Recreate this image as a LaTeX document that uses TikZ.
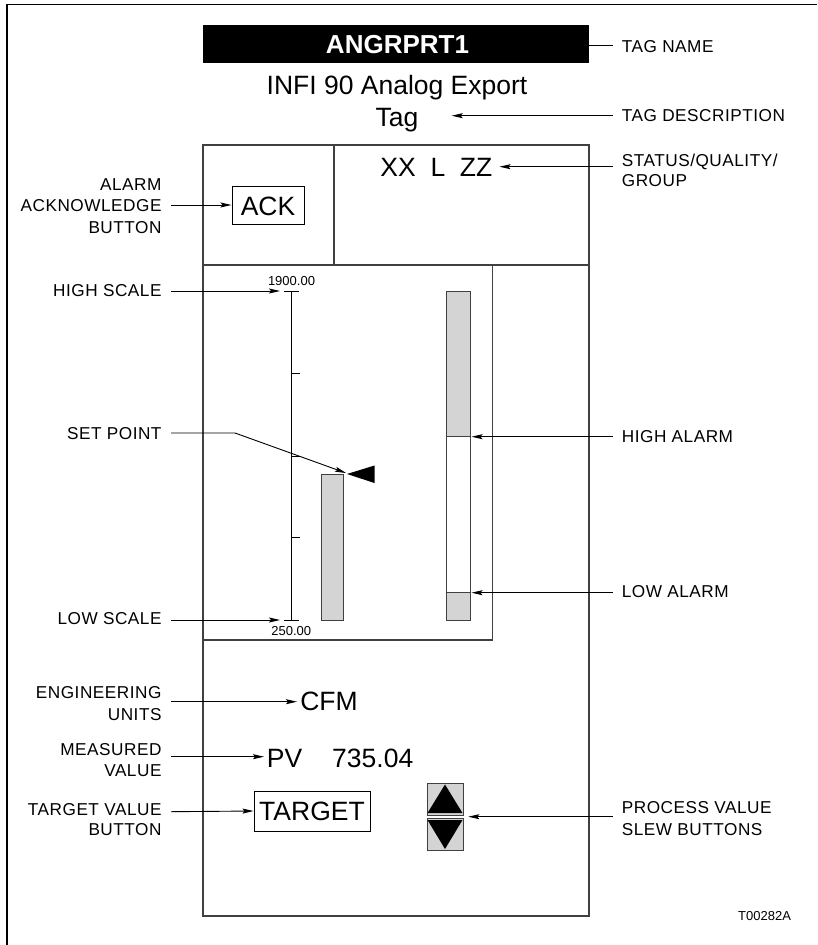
\documentclass[tikz,border=0pt]{standalone}
\usepackage{fontspec}
\setmainfont{Liberation Sans}
\newfontfamily\lblfont[LetterSpace=3]{Liberation Sans}
\usetikzlibrary{arrows.meta}
\begin{document}
\begin{tikzpicture}[x=1pt,y=-1pt,
  lbl/.style={font=\lblfont\fontsize{17.2}{20}\selectfont, inner sep=0pt},
  lblL/.style={lbl, anchor=base east},
  lblR/.style={lbl, anchor=base west},
  big/.style={font=\fontsize{26.5}{30}\selectfont, inner sep=0pt, anchor=base},
  small/.style={font=\fontsize{13}{15}\selectfont, inner sep=0pt, anchor=base},
  arr/.style={-{Stealth[length=11pt,width=5pt,inset=2pt]}, line width=0.9pt},
  pane/.style={draw=black!75, line width=1.2pt},
  gbar/.style={draw=black!75, line width=1pt, fill=black!17},
  wbar/.style={draw=black!75, line width=1pt, fill=white},
  btn/.style={draw=black, line width=1pt},
]
\useasboundingbox (0,0) rectangle (817,945);
% outer frame (top and left)
\draw[line width=1.3pt] (7,945) -- (7,4.5) -- (817,4.5);

% title bar
\fill (203,25) rectangle (589,63);
\node[font=\bfseries\fontsize{26}{30}\selectfont, text=white, anchor=base, inner sep=0pt] (tagname) at (397.5,53.3) {ANGRPRT1};
\node[big] (desc1) at (397,94) {INFI 90 Analog Export};
\node[big] (desc2) at (397,126) {Tag};

% panel
\draw[pane] (203,145) rectangle (589,916);
\draw[pane] (203,265) -- (589,265);
\draw[pane] (334,145) -- (334,265);
\draw[pane] (492.5,265) -- (492.5,640) -- (203,640);

% ACK
\node[btn, minimum width=72pt, minimum height=38pt, inner sep=0pt] (ack) at (268,205) {};
\node[big] (acktxt) at (268,215) {ACK};
\node[big] (status) at (436.4,176.7) {XX\ \ L\ \ ZZ};

% scale
\draw[line width=1pt] (291.7,291) -- (291.7,620);
\draw[line width=1pt] (284,291) -- (299,291);
\draw[line width=1pt] (284,620) -- (299,620);
\foreach \yy in {373.5,456,537.5} \draw[line width=1pt] (291.7,\yy) -- (300,\yy);
\node[small] (hival) at (291.5,285) {1900.00};
\node[small] (loval) at (291.3,635) {250.00};
\coordinate (hiS) at (280,291);
\coordinate (loS) at (280,620);

% PV bar and set point
\draw[gbar] (321,474) rectangle (343,620);
\fill (347,474) -- (374.5,465.5) -- (374.5,483) -- cycle;
\coordinate (sp) at (346,473);

% alarm bar
\draw[gbar] (446.7,291) rectangle (470,620);
\draw[wbar] (446.7,436.7) rectangle (470,592.7);
\coordinate (hiA) at (471.5,436.7);
\coordinate (loA) at (471.5,592.7);

% lower section
\node[big] (cfm) at (329,710.5) {CFM};
\node[big, anchor=base west] (pv) at (266.7,767) {PV};
\node[big, anchor=base west] (pvval) at (332,767) {735.04};
\node[btn, minimum width=116pt, minimum height=40pt, inner sep=0pt] (tgt) at (312,811) {};
\node[big] (tgttxt) at (312,820.5) {TARGET};

% slew buttons
\draw[draw=black!75, line width=1pt, fill=black!17] (427,783.5) rectangle (463,815);
\draw[draw=black!75, line width=1pt, fill=black!17] (427,818.5) rectangle (463,850);
\fill (427.5,813) -- (462.5,813) -- (445,784.5) -- cycle;
\fill (427.5,820) -- (462.5,820) -- (445,849) -- cycle;
\coordinate (slew) at (468.3,816.7);

% figure number
\node[small, anchor=base west] (fig) at (738,920) {T00282A};

% right labels
\node[lblR] (lTagName) at (621.7,52.3) {TAG NAME};
\node[lblR] (lTagDesc) at (621.7,121.7) {TAG DESCRIPTION};
\node[lblR] (lStat1) at (621.7,166.7) {STATUS/QUALITY/};
\node[lblR] (lStat2) at (621.7,186.7) {GROUP};
\node[lblR] (lHiA) at (621.7,442) {HIGH ALARM};
\node[lblR] (lLoA) at (621.7,597) {LOW ALARM};
\node[lblR] (lSlew1) at (621.7,813.3) {PROCESS VALUE};
\node[lblR] (lSlew2) at (621.7,835) {SLEW BUTTONS};

% left labels
\node[lblL] (lAck1) at (161.7,190) {ALARM};
\node[lblL] (lAck2) at (161.7,211.7) {ACKNOWLEDGE};
\node[lblL] (lAck3) at (161.7,233) {BUTTON};
\node[lblL] (lHiS) at (161.7,296.5) {HIGH SCALE};
\node[lblL] (lSP) at (161.7,439) {SET POINT};
\node[lblL] (lLoS) at (161.7,624) {LOW SCALE};
\node[lblL] (lEng1) at (161.7,698.3) {ENGINEERING};
\node[lblL] (lEng2) at (161.7,720) {UNITS};
\node[lblL] (lMeas1) at (161.7,755) {MEASURED};
\node[lblL] (lMeas2) at (161.7,776.3) {VALUE};
\node[lblL] (lTgt1) at (161.7,815) {TARGET VALUE};
\node[lblL] (lTgt2) at (161.7,835) {BUTTON};

% connector start points
\coordinate (rTN) at (613,45);
\coordinate (rTD) at (613,115.7);
\coordinate (rST) at (613,166.7);
\coordinate (rHA) at (613,436.7);
\coordinate (rLA) at (613,592.7);
\coordinate (rSL) at (613,816.7);
\coordinate (lAK) at (171,205);
\coordinate (lHS) at (171,291);
\coordinate (lSP0) at (171,433);
\coordinate (lSP1) at (235,433);
\coordinate (lLS) at (171,620);
\coordinate (lEU) at (171,701.7);
\coordinate (lMV) at (171,756.7);
\coordinate (lTV) at (171,811.7);
\coordinate (eTN) at (471.7,45);
\coordinate (eTD) at (451.7,115.7);
\coordinate (eST) at (499.5,166.7);
\coordinate (eEU) at (297,701.7);
\coordinate (eMV) at (264,756.7);

% connectors
\draw[arr] (rTN) -- (eTN);
\draw[arr] (rTD) -- (eTD);
\draw[arr] (rST) -- (eST);
\draw[arr] (rHA) -- (hiA);
\draw[arr] (rLA) -- (loA);
\draw[arr] (rSL) -- (slew);
\draw[arr] (lAK) -- (ack.west);
\draw[arr] (lHS) -- (hiS);
\draw[arr] (lSP0) -- (lSP1) -- (sp);
\draw[arr] (lLS) -- (loS);
\draw[arr] (lEU) -- (eEU);
\draw[arr] (lMV) -- (eMV);
\draw[arr] (lTV) -- (tgt.west);
\end{tikzpicture}
\end{document}
